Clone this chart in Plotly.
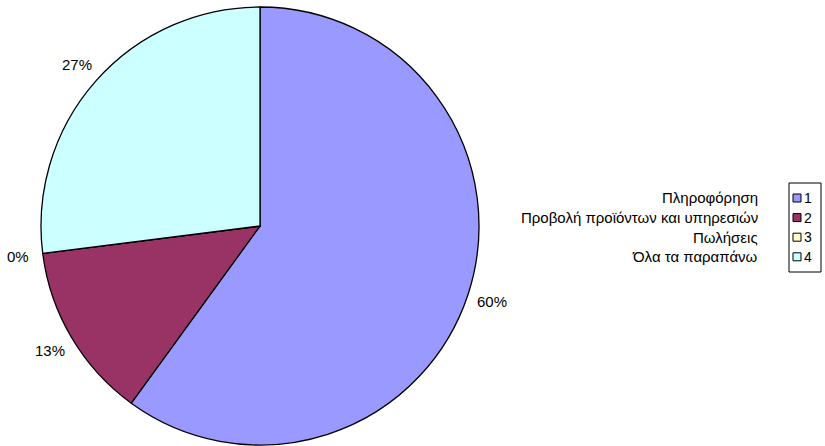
import math
import plotly.graph_objects as go

# Slice data
categories = ["1", "2", "3", "4"]
descriptions = ["Πληροφόρηση", "Προβολή προϊόντων και υπηρεσιών", "Πωλήσεις", "Όλα τα παραπάνω"]
values = [60, 13, 0, 27]
colors = ["#9999FF", "#993366", "#FFFFCC", "#CCFFFF"]

W, H = 825, 446


def px_x(x):
    return x / W


def px_y(y):
    return (H - y) / H


# pie placement (pixels)
cx, cy, radius = 260, 226, 219

fig = go.Figure(go.Pie(
    labels=categories,
    values=values,
    sort=False,
    direction="clockwise",
    rotation=0,
    marker=dict(colors=colors, line=dict(color="black", width=1.3)),
    textinfo="none",
    hoverinfo="none",
    showlegend=False,
    domain=dict(x=[px_x(cx - radius), px_x(cx + radius)],
                y=[px_y(cy + radius), px_y(cy - radius)]),
))

font = dict(family="Liberation Sans, Arial, sans-serif", size=15, color="black")
annotations = []
shapes = []

# percentage labels placed outside the rim, at each slice's mid angle
total = sum(values)
cum = 0
label_r = radius + 25
for v in values:
    mid = (cum + v / 2) / total * 2 * math.pi
    cum += v
    annotations.append(dict(
        x=px_x(cx + label_r * math.sin(mid)), y=px_y(cy - label_r * math.cos(mid)),
        xref="paper", yref="paper", showarrow=False,
        text=f"{round(v / total * 100)}%", font=font,
        xanchor="center", yanchor="middle",
    ))

# legend box with colour keys, plus the category descriptions beside it
box_l, box_r, box_t, box_b = 789, 821, 183, 272
row_top, row_step = 198, 19.6
sq = 8
shapes.append(dict(type="rect", xref="paper", yref="paper",
                   x0=px_x(box_l), x1=px_x(box_r), y0=px_y(box_b), y1=px_y(box_t),
                   line=dict(color="black", width=1), fillcolor="white", layer="above"))
for i, (cat, desc, col) in enumerate(zip(categories, descriptions, colors)):
    ry = row_top + i * row_step
    shapes.append(dict(type="rect", xref="paper", yref="paper",
                       x0=px_x(793), x1=px_x(793 + sq),
                       y0=px_y(ry + sq / 2), y1=px_y(ry - sq / 2),
                       line=dict(color="black", width=1), fillcolor=col, layer="above"))
    annotations.append(dict(
        x=px_x(802), y=px_y(ry), xref="paper", yref="paper", showarrow=False,
        text=cat, font=dict(font, size=14), xanchor="left", yanchor="middle",
    ))
    annotations.append(dict(
        x=px_x(760), y=px_y(ry), xref="paper", yref="paper", showarrow=False,
        text=desc, font=font, xanchor="right", yanchor="middle",
    ))

fig.update_layout(
    width=W, height=H,
    margin=dict(l=0, r=0, t=0, b=0),
    paper_bgcolor="white",
    plot_bgcolor="white",
    font=font,
    showlegend=False,
    annotations=annotations,
    shapes=shapes,
)

fig.write_html("out.html")
